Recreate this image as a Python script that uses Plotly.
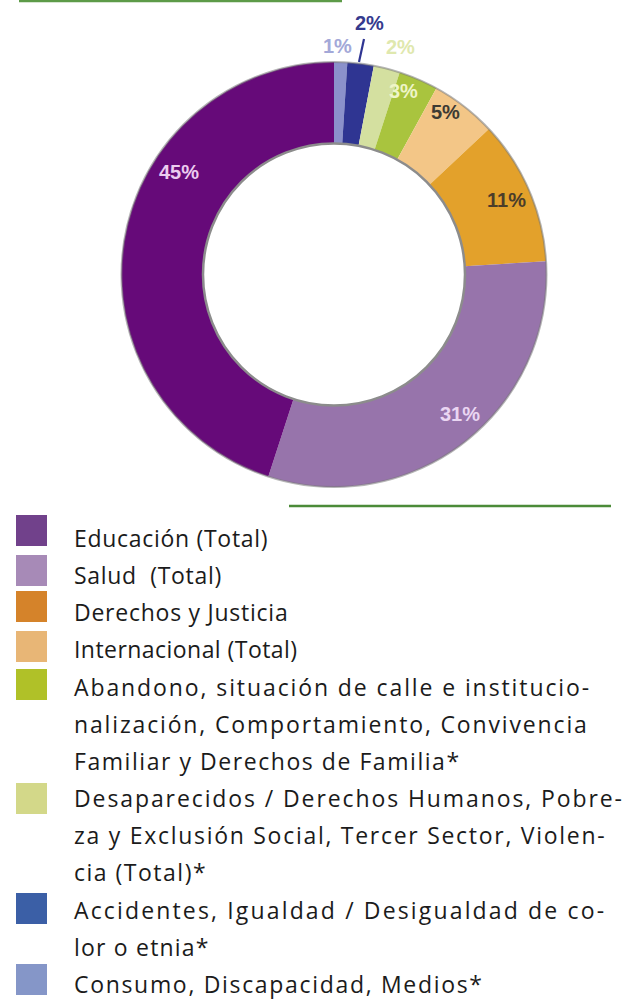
import plotly.graph_objects as go

# Share of items by topic, in clockwise order from 12 o'clock
categories = [
    "Consumo, Discapacidad, Medios",
    "Accidentes, Igualdad / Desigualdad de color o etnia",
    "Desaparecidos / Derechos Humanos, Pobreza y Exclusión Social, Tercer Sector, Violencia",
    "Abandono, situación de calle e institucionalización, Comportamiento, Convivencia Familiar y Derechos de Familia",
    "Internacional (Total)",
    "Derechos y Justicia",
    "Salud (Total)",
    "Educación (Total)",
]
values = [1, 2, 2, 3, 5, 11, 31, 45]
slice_colors = ["#8b91cb", "#2f3592", "#d4e0a0", "#a9c43e", "#f3c687",
                "#e3a12b", "#9774ab", "#660a79"]
label_colors = ["#a3a8d8", "#353a8e", "#dfe8ae", "#eef5c8", "#3d3a33",
                "#4b3d2a", "#ead6f2", "#ecccf0"]

# Legend entries (top to bottom) with their text lines
legend_lines = [
    ["Educación (Total)"],
    ["Salud\u00a0 (Total)"],
    ["Derechos y Justicia"],
    ["Internacional (Total)"],
    ["Abandono, situación de calle e institucio-",
     "nalización, Comportamiento, Convivencia",
     "Familiar y Derechos de Familia*"],
    ["Desaparecidos / Derechos Humanos, Pobre-",
     "za y Exclusión Social, Tercer Sector, Violen-",
     "cia (Total)*"],
    ["Accidentes, Igualdad / Desigualdad de co-",
     "lor o etnia*"],
    ["Consumo, Discapacidad, Medios*"],
]
legend_colors = ["#71418b", "#a78ab7", "#d5832a", "#e8b676",
                 "#b0c128", "#d3d889", "#3b5fa6", "#8596c8"]

W, H = 624, 1001


def px(x):
    return x / W


def py(y):
    return 1 - y / H


# Donut geometry (pixels)
CX, CY, R, R_IN = 334, 274.5, 212.5, 131

fig = go.Figure(go.Pie(
    labels=categories,
    values=values,
    sort=False,
    direction="clockwise",
    rotation=0,
    hole=R_IN / R,
    marker=dict(colors=slice_colors, line=dict(width=0)),
    textinfo="none",
    hoverinfo="label+percent",
    showlegend=False,
    domain=dict(x=[px(CX - R), px(CX + R)], y=[py(CY + R), py(CY - R)]),
))

shapes = []
annotations = []

# Rims of the ring
shapes.append(dict(type="circle", xref="paper", yref="paper",
                   x0=px(CX - R), x1=px(CX + R), y0=py(CY + R), y1=py(CY - R),
                   line=dict(color="rgba(120,120,120,0.55)", width=2),
                   layer="above"))
shapes.append(dict(type="circle", xref="paper", yref="paper",
                   x0=px(CX - R_IN), x1=px(CX + R_IN),
                   y0=py(CY + R_IN), y1=py(CY - R_IN),
                   line=dict(color="#8c8c8c", width=2.5), layer="above"))

# Percentage labels placed around the ring
label_pos = [(337, 46), (369, 23), (400, 47), (403, 91), (445, 112),
             (506, 200), (460, 414), (179, 172)]
for v, (lx, ly), c in zip(values, label_pos, label_colors):
    annotations.append(dict(
        x=px(lx), y=py(ly), xref="paper", yref="paper",
        text=f"{v}%", showarrow=False, xanchor="center", yanchor="middle",
        font=dict(family="Liberation Sans", size=20, color=c, weight="bold")))

# Leader line for the small dark-blue slice
shapes.append(dict(type="line", xref="paper", yref="paper",
                   x0=px(359), y0=py(62), x1=px(364), y1=py(39),
                   line=dict(color="#2f3592", width=2.2), layer="above"))

# Green rules
shapes.append(dict(type="line", xref="paper", yref="paper",
                   x0=px(19), x1=px(342), y0=py(1), y1=py(1),
                   line=dict(color="#5d9b48", width=2.5)))
shapes.append(dict(type="line", xref="paper", yref="paper",
                   x0=px(289), x1=px(611), y0=py(506), y1=py(506),
                   line=dict(color="#4b8b38", width=2.5)))

# Legend: colour squares and wrapped, tracked text lines
square_tops = [515, 555, 591, 631, 669, 783, 893, 964]
line_tracking = [0.7, 0.7, 0.75, 0.45,
                 1.9, 1.85, 1.55,
                 1.9, 1.72, 1.5,
                 2.15, 1.2,
                 1.68]
LINE0, PITCH = 538, 37.15
k = 0
for lines, col, top in zip(legend_lines, legend_colors, square_tops):
    shapes.append(dict(type="rect", xref="paper", yref="paper",
                       x0=px(16), x1=px(47), y0=py(top + 31), y1=py(top),
                       fillcolor=col, line=dict(width=0)))
    for line in lines:
        annotations.append(dict(
            x=px(72), y=py(LINE0 + PITCH * k), xref="paper", yref="paper",
            text=f'<span style="letter-spacing:{line_tracking[k]}px">{line}</span>',
            showarrow=False, xanchor="left", yanchor="middle", align="left",
            font=dict(family="Open Sans", size=23, color="#1b1b1b")))
        k += 1

fig.update_layout(
    width=W, height=H,
    margin=dict(l=0, r=0, t=0, b=0),
    paper_bgcolor="white", plot_bgcolor="white",
    shapes=shapes, annotations=annotations,
)

fig.write_html("out.html")
